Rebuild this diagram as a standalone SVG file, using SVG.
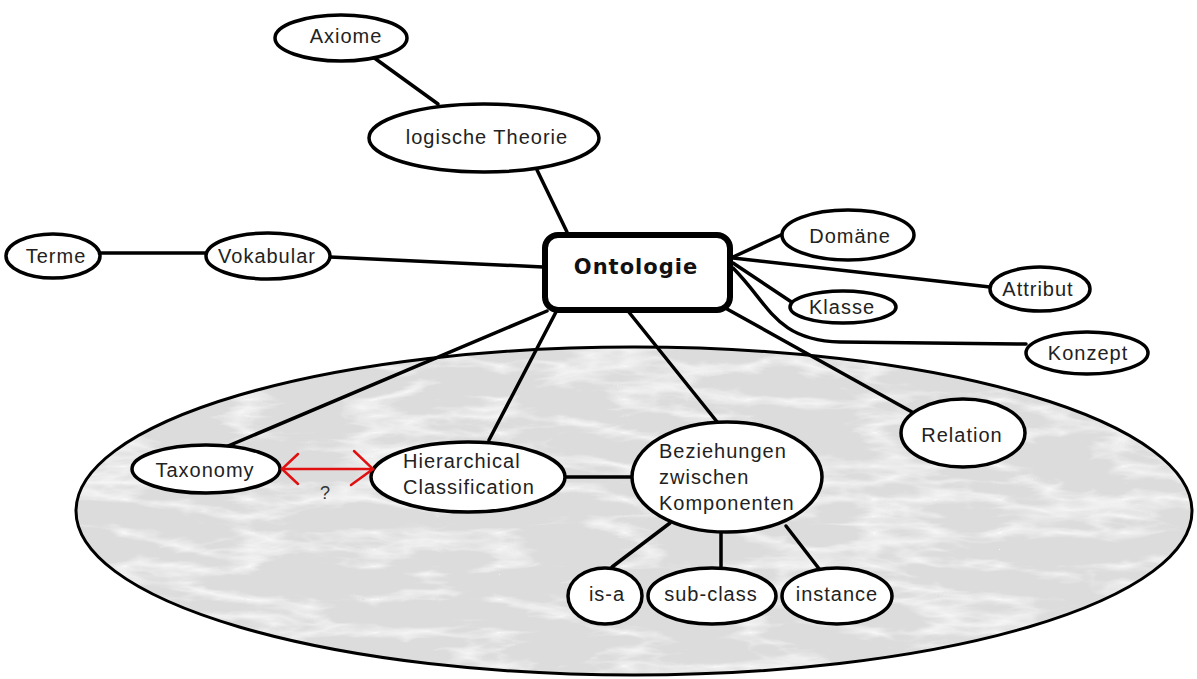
<svg xmlns="http://www.w3.org/2000/svg" width="1197" height="679" viewBox="0 0 1197 679">
<style>
  .node ellipse { fill: #ffffff; stroke: #000000; stroke-width: 3.5; }
  .lbl { font-family: "Liberation Sans", Arial, sans-serif; font-size: 20px; fill: #222222; letter-spacing: 1px; }
  .mid { text-anchor: middle; }
  .conn line, .conn path { stroke: #000000; stroke-width: 3.5; fill: none; stroke-linecap: round; }
  .red { stroke: #e01010; stroke-width: 2.5; fill: none; stroke-linecap: round; }
</style>
<defs>
  <filter id="marble" x="0" y="0" width="100%" height="100%">
    <feTurbulence type="turbulence" baseFrequency="0.008 0.03" numOctaves="4" seed="11" result="n"/>
    <feColorMatrix in="n" type="matrix" values="0 0 0 0 1  0 0 0 0 1  0 0 0 0 1  -2.2 0 0 0 0.75" result="c"/>
    <feComposite in="c" in2="SourceGraphic" operator="over" result="m"/>
    <feComposite in="m" in2="SourceGraphic" operator="in"/>
  </filter>
</defs>
<rect width="1197" height="679" fill="#ffffff"/>

<!-- big background ellipse -->
<g id="area">
  <ellipse cx="634" cy="511" rx="558" ry="164" fill="#dcdcdc" filter="url(#marble)"/>
  <ellipse cx="634" cy="511" rx="558" ry="164" fill="none" stroke="#000" stroke-width="3"/>
</g>

<g id="connectors" class="conn">
  <line x1="373" y1="57" x2="438" y2="104"/>
  <line x1="537" y1="170" x2="567" y2="232"/>
  <line x1="100" y1="253" x2="206" y2="253"/>
  <line x1="330" y1="257" x2="543" y2="267"/>
  <line x1="733" y1="257" x2="783" y2="234"/>
  <line x1="733" y1="258" x2="990" y2="287"/>
  <line x1="733" y1="263" x2="793" y2="303"/>
  <path d="M733,268 C770,305 775,340 840,342 L1026,344"/>
  <line x1="727" y1="309" x2="912" y2="412"/>
  <line x1="547" y1="311" x2="228" y2="446"/>
  <line x1="556" y1="312" x2="489" y2="440"/>
  <line x1="628" y1="311" x2="718" y2="423"/>
  <line x1="565" y1="477" x2="633" y2="477"/>
  <line x1="670" y1="523" x2="612" y2="567"/>
  <line x1="721" y1="527" x2="721" y2="568"/>
  <line x1="786" y1="526" x2="827" y2="579"/>
</g>

<g id="n-axiome" class="node">
  <ellipse cx="341" cy="38" rx="66" ry="23"/>
  <text class="lbl mid" x="346" y="43">Axiome</text>
</g>
<g id="n-logik" class="node">
  <ellipse cx="484" cy="138" rx="115" ry="34"/>
  <text class="lbl mid" x="487" y="144">logische Theorie</text>
</g>
<g id="n-terme" class="node">
  <ellipse cx="53" cy="256" rx="47" ry="22"/>
  <text class="lbl mid" x="56" y="263">Terme</text>
</g>
<g id="n-vokabular" class="node">
  <ellipse cx="268" cy="256" rx="62" ry="23"/>
  <text class="lbl mid" x="267" y="263">Vokabular</text>
</g>
<g id="n-ontologie">
  <rect x="545" y="235" width="185" height="75" rx="13" ry="13" fill="#fff" stroke="#000" stroke-width="6"/>
  <text x="636" y="274" text-anchor="middle" font-family="'DejaVu Sans', Verdana, sans-serif" font-weight="bold" font-size="21" letter-spacing="1" fill="#111">Ontologie</text>
</g>
<g id="n-domaene" class="node">
  <ellipse cx="848" cy="235" rx="66" ry="25"/>
  <text class="lbl mid" x="850" y="243">Domäne</text>
</g>
<g id="n-attribut" class="node">
  <ellipse cx="1040" cy="289" rx="50" ry="22"/>
  <text class="lbl mid" x="1038" y="296">Attribut</text>
</g>
<g id="n-klasse" class="node">
  <ellipse cx="843" cy="307" rx="53" ry="16"/>
  <text class="lbl mid" x="842" y="314">Klasse</text>
</g>
<g id="n-konzept" class="node">
  <ellipse cx="1087" cy="353" rx="61" ry="21"/>
  <text class="lbl mid" x="1088" y="360">Konzept</text>
</g>
<g id="n-relation" class="node">
  <ellipse cx="963" cy="433" rx="62" ry="34"/>
  <text class="lbl mid" x="962" y="442">Relation</text>
</g>
<g id="n-taxonomy" class="node">
  <ellipse cx="206" cy="469" rx="74" ry="24"/>
  <text class="lbl mid" x="205" y="477">Taxonomy</text>
</g>
<g id="n-hierarchical" class="node">
  <ellipse cx="468" cy="477" rx="97" ry="35"/>
  <text class="lbl" x="403" y="468">Hierarchical</text>
  <text class="lbl" x="403" y="494">Classification</text>
</g>
<g id="n-beziehungen" class="node">
  <ellipse cx="727" cy="477" rx="95" ry="55"/>
  <text class="lbl" x="659" y="458">Beziehungen</text>
  <text class="lbl" x="659" y="484">zwischen</text>
  <text class="lbl" x="659" y="510">Komponenten</text>
</g>
<g id="n-isa" class="node">
  <ellipse cx="605" cy="596" rx="37" ry="28"/>
  <text class="lbl mid" x="607" y="601">is-a</text>
</g>
<g id="n-subclass" class="node">
  <ellipse cx="712" cy="596" rx="64" ry="28"/>
  <text class="lbl mid" x="711" y="601">sub-class</text>
</g>
<g id="n-instance" class="node">
  <ellipse cx="837" cy="596" rx="55" ry="28"/>
  <text class="lbl mid" x="837" y="601">instance</text>
</g>

<g id="question-arrow">
  <line class="red" x1="282" y1="469" x2="373" y2="469"/>
  <polyline class="red" points="298,454 282,469 298,484"/>
  <polyline class="red" points="354,451 373,469 351,485"/>
  <text x="325" y="499" text-anchor="middle" font-family="'Liberation Sans', Arial, sans-serif" font-size="18" fill="#333">?</text>
</g>
</svg>
